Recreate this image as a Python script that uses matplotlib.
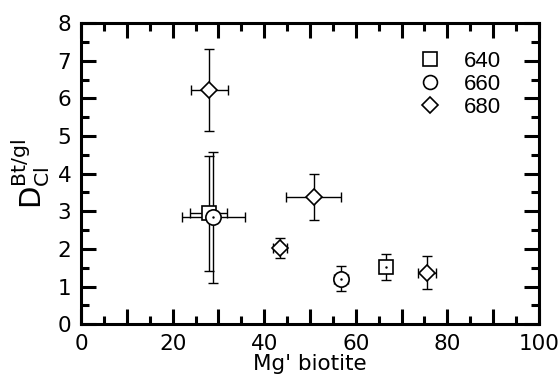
import numpy as np
import matplotlib.pyplot as plt
from matplotlib.lines import Line2D

plt.rcParams['font.family'] = ['DejaVu Sans']
plt.rcParams['mathtext.fontset'] = 'custom'
plt.rcParams['mathtext.rm'] = 'Liberation Sans'

# 640
x640 = [27.9, 66.6]
y640 = [2.95, 1.52]
xe640 = [4.0, 0.8]
ye640 = [1.53, 0.35]

# 660
x660 = [28.9, 56.8]
y660 = [2.84, 1.21]
xe660 = [6.9, 1.5]
ye660 = [1.74, 0.33]

# 680
x680 = [28.0, 50.8, 43.4, 75.5]
y680 = [6.22, 3.39, 2.03, 1.37]
xe680 = [4.0, 6.0, 1.5, 2.0]
ye680 = [1.1, 0.61, 0.27, 0.44]

fig = plt.figure(figsize=(5.59, 3.91), dpi=100)
ax = fig.add_axes([0.145, 0.171, 0.819, 0.770])

ebkw = dict(fmt='none', ecolor='black', elinewidth=1.0, capsize=3.5, capthick=1.0)
mkw = dict(linestyle='none', markerfacecolor='white', markeredgecolor='black', markeredgewidth=1.2)

ax.errorbar(x640, y640, xerr=xe640, yerr=ye640, **ebkw)
ax.errorbar(x680, y680, xerr=xe680, yerr=ye680, **ebkw)
ax.errorbar(x660, y660, xerr=xe660, yerr=ye660, **ebkw)

ax.plot(x640, y640, marker='s', markersize=10, **mkw)
ax.plot(x640, y640, 'k.', markersize=1.5)
ax.plot(x680, y680, marker='D', markersize=8.5, **mkw)
ax.plot(x660, y660, marker='o', markersize=11, **mkw)
ax.plot(x660, y660, 'k.', markersize=1.5)

ax.set_xlim(0, 100)
ax.set_ylim(0, 8)
xmaj = np.arange(0, 101, 10)
ax.set_xticks(xmaj)
ax.set_xticklabels([str(v) if v % 20 == 0 else '' for v in xmaj])
ax.set_xticks(np.arange(0, 101, 5), minor=True)
ax.set_yticks(np.arange(0, 9, 1))
ax.set_yticks(np.arange(0, 8.1, 0.5), minor=True)

ax.tick_params(which='both', direction='in', top=True, right=True, labelsize=15.5, width=2.2)
ax.tick_params(which='major', length=11, pad=7)
ax.tick_params(which='minor', length=6)
for s in ax.spines.values():
    s.set_linewidth(2.2)

ax.set_xlabel("Mg' biotite", fontsize=15.5, labelpad=0)
ax.set_ylabel(r'$\mathregular{D_{Cl}^{Bt/gl}}$', fontsize=21, labelpad=4)

handles = [
    Line2D([], [], marker='s', markersize=10, **mkw),
    Line2D([], [], marker='o', markersize=10, **mkw),
    Line2D([], [], marker='D', markersize=8, **mkw),
]
ax.legend(handles, ['640', '660', '680'], loc='upper right', bbox_to_anchor=(0.96, 0.975),
          frameon=False, prop={'family': 'Liberation Sans', 'size': 16},
          handlelength=1.0, handletextpad=1.0, labelspacing=0.1)

fig.savefig('out.png', dpi=100)
